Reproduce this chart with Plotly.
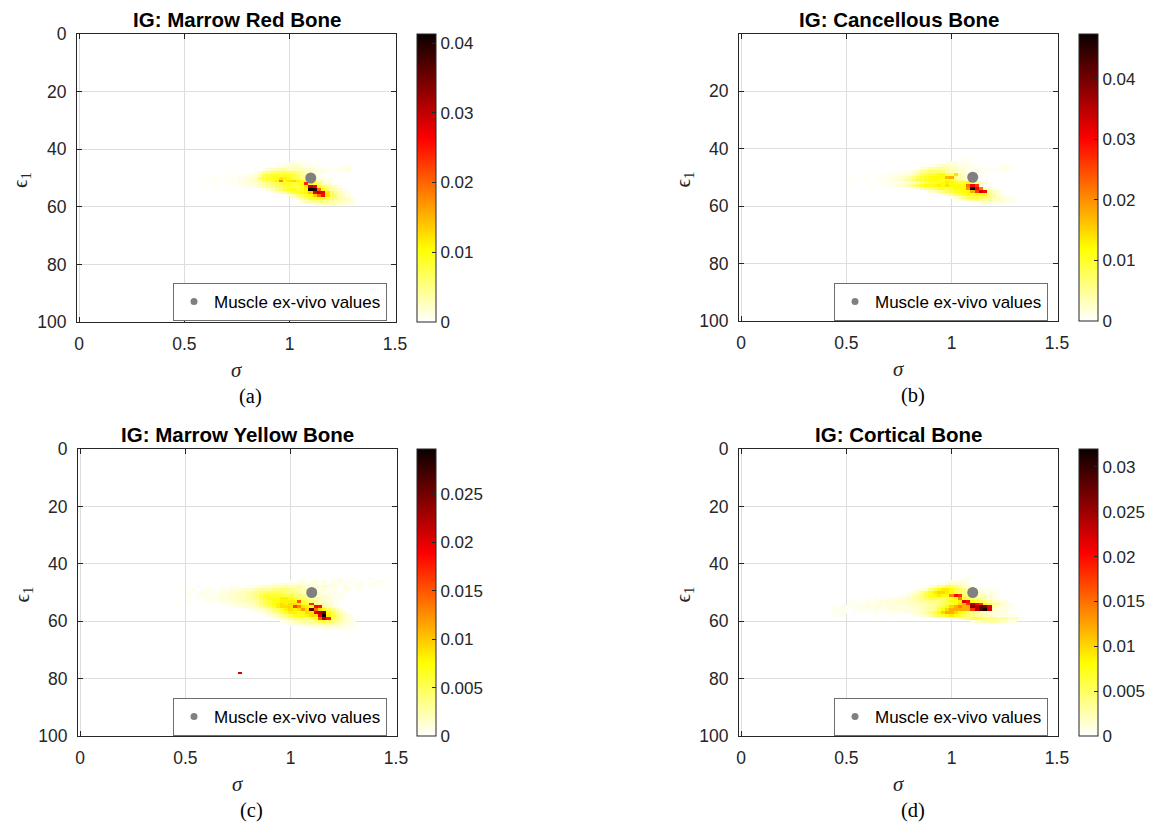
import numpy as np
import plotly.graph_objects as go

W, H = 1152, 822

# ---------------- data ----------------
TITLES = ["IG: Marrow Red Bone", "IG: Cancellous Bone", "IG: Marrow Yellow Bone", "IG: Cortical Bone"]
CAPTIONS = ["(a)", "(b)", "(c)", "(d)"]
X_TICKS = [0, 0.5, 1, 1.5]
X_TICKTEXT = ["0", "0.5", "1", "1.5"]
Y_TICKS = [0, 20, 40, 60, 80, 100]
CB_TICKS = [
    [0, 0.01, 0.02, 0.03, 0.04],
    [0, 0.01, 0.02, 0.03, 0.04],
    [0, 0.005, 0.01, 0.015, 0.02, 0.025],
    [0, 0.005, 0.01, 0.015, 0.02, 0.025, 0.03],
]
MUSCLE_SIGMA = [1.1]
MUSCLE_EPS = [50]
LEGEND_LABEL = "Muscle ex-vivo values"

SIGMA_STEP = 0.02          # histogram bin width in sigma
N_SIGMA = 76               # sigma bins 0 .. 1.5
N_EPS = 101                # eps bins 0 .. 100
VALUE_UNIT = 1e-3          # values below are in units of 1e-3

# rows: (eps bin, first sigma bin index, values)
A_ROWS = [
    (44, 51, [0.5, 0, 0.5, 0.5]),
    (45, 49, [0.5, 1, 1, 1.5, 1, 0.5, 0.5, 0.5]),
    (46, 47, [1, 1, 1.5, 2, 2.5, 2.5, 1.5, 1, 1, 0.5, 0.5, 0, 0, 0, 0, 0.5, 1, 0.5]),
    (47, 44, [1, 2, 3, 3, 4, 4, 3, 3, 3, 3, 2, 2, 1, 1, 1, 0.5, 0.5, 0.5, 1, 1, 1.5, 0.5]),
    (48, 42, [1, 2, 4, 5, 6, 7, 7, 7, 6, 6, 5, 4, 3, 2, 2, 1.5, 1, 1, 0.5, 0.5, 0.5, 0, 0.5]),
    (49, 32, [0.5, 0.5, 0, 0.5, 0.5, 0, 0.5, 0.5, 1, 1, 1.5, 3, 7, 8, 9, 9, 8, 9, 9, 8, 6, 5, 4, 3, 2]),
    (50, 29, [0.5, 0, 0.5, 0.5, 0.5, 0, 0.5, 0.5, 0.5, 1, 1, 1.5, 2, 3, 6, 8, 9, 9, 10, 12, 11, 10, 8, 7, 5, 4, 3, 2, 1, 1, 0.5, 0.5]),
    (51, 36, [0.5, 0.5, 1, 1, 1.5, 2, 3, 4, 6, 8, 9, 11, 10, 10, 12, 13, 11, 9, 8, 6, 5, 3, 2, 1, 0.5]),
    (52, 30, [0.5, 0, 0.5, 0.5, 0, 0.5, 0.5, 0.5, 1, 1, 1.5, 1, 2, 3, 4, 5, 6, 7, 8, 9, 9, 8, 9, 10, 12, 10, 8, 5, 3, 2, 1, 0.5]),
    (53, 38, [0.5, 0.5, 1, 1, 1.5, 2, 3, 4, 5, 6, 7, 8, 9, 8, 7, 9, 12, 10, 10, 10, 6, 4, 3, 2, 1]),
    (54, 44, [1, 2, 3, 5, 6, 8, 9, 10, 8, 9, 11, 12, 12, 12, 10, 6, 4, 3, 2, 1]),
    (55, 46, [1, 2, 3, 4, 6, 8, 9, 10, 11, 14, 12, 12, 12, 12, 6, 4, 3, 2, 1]),
    (56, 50, [2, 3, 5, 7, 8, 10, 14, 12, 12, 12, 7, 5, 3, 2, 1]),
    (57, 51, [1, 2, 4, 6, 8, 9, 10, 9, 8, 6, 5, 4, 3, 2, 1]),
    (58, 53, [2, 3, 4, 5, 5, 5, 4, 4, 3, 3, 2, 2, 1]),
    (59, 56, [1, 2, 2, 3, 3, 2, 2, 2, 1, 1]),
]
# strong cells: (sigma bin index, eps bin, value)
A_HOT = [(48, 51, 18), (54, 52, 24), (55, 53, 30), (56, 53, 27), (55, 54, 41.3), (56, 54, 40),
         (57, 54, 20), (56, 55, 28), (57, 55, 30), (58, 55, 28), (57, 56, 20), (58, 56, 26)]

B_ROWS = [
    (44, 52, [0.5, 1, 0.5]),
    (45, 48, [0.5, 1, 1.5, 1.5, 1, 0.5, 0.5, 0.5]),
    (46, 44, [0.5, 1, 1.5, 2, 3, 3, 2, 2, 1, 1, 1, 0.5, 0.5, 0, 0, 0, 0, 0, 0.5, 1, 0.5]),
    (47, 42, [1, 2, 3, 4, 4, 5, 4, 4, 3, 3, 2, 2, 1, 1, 1, 0.5, 0.5, 0.5, 0.5, 1, 1, 1, 0.5, 0.5]),
    (48, 36, [0.5, 0, 0.5, 0.5, 1, 2, 3, 5, 6, 7, 7, 7, 6, 5, 4, 3, 2, 2, 1, 1, 1, 0.5, 0.5, 0.5, 0, 0.5, 0.5, 0.5]),
    (49, 30, [0.5, 0.5, 0, 0.5, 0.5, 0.5, 0.5, 1, 1, 1.5, 2, 3, 5, 7, 8, 9, 10, 12, 12, 8, 7, 5, 4, 3, 2, 1, 0.5, 0.5]),
    (50, 26, [0.5, 0, 0, 0.5, 0.5, 0, 0.5, 0.5, 0.5, 1, 1, 1.5, 2, 3, 4, 6, 8, 9, 10, 11, 12, 12, 12, 10, 8, 6, 4, 3, 2, 1, 0.5]),
    (51, 32, [0.5, 0.5, 1, 1, 1.5, 2, 3, 4, 5, 7, 9, 10, 11, 12, 12, 11, 10, 11, 10, 8, 6, 4, 3, 2, 1]),
    (52, 34, [0.5, 0.5, 1, 1, 1, 2, 2, 3, 4, 6, 8, 9, 10, 11, 12, 13, 12, 10, 9, 10, 12, 8, 5, 3, 2, 1]),
    (53, 26, [0.5, 0, 0, 0, 0.5, 0.5, 0, 0.5, 0.5, 1, 1, 1.5, 2, 3, 4, 6, 8, 10, 12, 11, 12, 13, 12, 14, 12, 12, 12, 12, 6, 3, 2, 1]),
    (54, 40, [0.5, 1, 1.5, 3, 4, 6, 8, 9, 10, 9, 10, 12, 12, 12, 12, 12, 12, 6, 3, 2, 1]),
    (55, 44, [1, 2, 3, 5, 6, 8, 9, 10, 11, 12, 12, 12, 12, 12, 12, 5, 3, 2, 1]),
    (56, 48, [2, 3, 5, 7, 8, 10, 12, 10, 12, 12, 12, 6, 4, 2, 1]),
    (57, 50, [1, 2, 4, 6, 8, 9, 9, 8, 7, 5, 4, 3, 2, 1, 1]),
    (58, 52, [1, 2, 3, 4, 5, 5, 4, 4, 3, 3, 2, 2, 1, 1]),
    (59, 55, [1, 1, 2, 3, 3, 2, 2, 2, 1, 1, 0.5]),
]
B_HOT = [(49, 50, 17), (50, 50, 18), (51, 49, 14), (54, 53, 22), (55, 53, 30), (56, 53, 26),
         (54, 54, 20), (55, 54, 47.4), (56, 54, 30), (57, 54, 22), (56, 55, 26), (57, 55, 33),
         (58, 55, 30), (55, 55, 18)]

C_ROWS = [
    (45, 60, [0.5, 0, 0.5, 0, 0, 0.5, 0, 0, 0, 0.5, 0, 0, 0, 0.5]),
    (46, 50, [0.5, 0, 0.5, 1, 0, 0.5, 1, 0.5, 1, 0, 0.5, 0.5, 1, 0, 0.5, 0, 0, 0.5, 0, 0, 0.5, 0.5, 0.5]),
    (47, 40, [0.5, 0, 0, 0.5, 0, 0.5, 1, 1, 1, 1.5, 1, 1, 1.5, 1, 1, 1, 0.5, 0, 0.5, 0.5, 1, 0.5, 0, 0.5, 0, 0, 0.5, 0.5, 0, 0.5, 0.5]),
    (48, 28, [0.5, 0, 0, 0, 0, 0, 0.5, 0, 0.5, 0.5, 0, 0, 0.5, 0.5, 1, 1, 1.5, 1.5, 2, 2, 2, 2.5, 2, 2, 2.5, 2, 1.5, 1, 1, 1, 1.5, 1, 1, 0.5, 0.5, 1, 0.5, 0.5, 0.5, 0.5, 0, 0.5, 0.5]),
    (49, 24, [0.5, 0, 0, 0.5, 0, 0, 0.5, 0.5, 0, 0.5, 0.5, 0.5, 1, 1, 1, 1.5, 1.5, 2, 2.5, 3, 3, 3, 3.5, 4, 4, 4, 3.5, 3, 2.5, 2, 2, 1.5, 1, 1, 1, 0.5, 0.5, 0.5, 0, 0.5, 0.5, 0, 0.5]),
    (50, 22, [0.5, 0, 0, 0, 0.5, 0, 0, 0.5, 0.5, 0.5, 0.5, 0.5, 1, 1, 1, 1.5, 1.5, 2, 2.5, 3, 3.5, 4, 4.5, 5, 5, 5, 4.5, 4, 3.5, 3, 2.5, 2, 1.5, 1.5, 1, 1, 0.5, 0.5, 0.5, 0, 0.5]),
    (51, 26, [0.5, 0, 0.5, 0.5, 0.5, 0.5, 0.5, 1, 1, 1, 1.5, 1.5, 2, 2, 2.5, 3, 4, 5, 6, 6, 6, 6, 6, 5.5, 5, 4.5, 4, 3.5, 3, 2.5, 2, 1.5, 1, 1, 0.5, 0.5, 0.5, 0.5]),
    (52, 28, [0.5, 0, 0.5, 0.5, 0.5, 1, 1, 1, 1.5, 1.5, 2, 2, 2.5, 3, 4, 5, 6, 7, 7, 7, 8, 8, 7, 6, 5, 4.5, 4, 3, 2.5, 2, 1.5, 1, 1, 0.5, 0.5]),
    (53, 23, [0.5, 0, 0, 0.5, 0, 0, 0, 0.5, 0.5, 0.5, 0.5, 1, 1, 1, 1.5, 1.5, 2, 2, 2.5, 3, 4, 5, 6, 7, 7, 8, 8, 8, 8, 7, 6, 5, 4, 3, 2, 1.5, 1, 0.5, 0.5]),
    (54, 34, [0.5, 0.5, 0.5, 1, 1, 1, 1.5, 2, 3, 4, 5, 6, 7, 8, 9, 8, 9, 9, 8, 7, 6, 5, 4, 3, 2, 1.5, 1, 0.5]),
    (55, 36, [0.5, 0.5, 1, 1, 1.5, 1.5, 2, 3, 4, 5, 6, 8, 9, 9, 9, 9, 9, 9, 8, 7, 6, 4, 3, 2, 1, 0.5]),
    (56, 40, [0.5, 1, 1, 1.5, 2, 3, 4, 5, 6, 8, 9, 8, 9, 9, 9, 9, 9, 9, 7, 5, 3, 2, 1]),
    (57, 42, [0.5, 1, 1.5, 2, 3, 4, 5, 7, 8, 8, 7, 7, 9, 9, 9, 9, 9, 7, 5, 3, 2, 1]),
    (58, 44, [0.5, 1, 1.5, 2, 3, 4, 5, 7, 7, 7, 8, 9, 9, 9, 9, 8, 6, 4, 2.5, 1.5, 1]),
    (59, 46, [0.5, 1, 1.5, 2, 3, 4, 4, 4, 4, 5, 7, 9, 9, 7, 5, 4, 2.5, 1.5, 1]),
    (60, 48, [0.5, 1, 1.5, 2, 2.5, 3, 2.5, 3, 4, 5, 6, 5, 4, 3, 2, 1.5, 1, 0.5]),
    (61, 50, [0.5, 1, 1, 1.5, 2, 2, 2, 2, 2.5, 2.5, 2, 2, 1.5, 1, 0.5, 0.5]),
    (62, 54, [0.5, 0.5, 1, 1, 1, 1, 1, 1, 1, 0.5, 0.5, 0.5]),
    (63, 58, [0.5, 0.5, 0.5, 0.5, 0.5, 0.5, 0.5]),
]
C_HOT = [(52, 53, 15), (51, 55, 16), (52, 55, 13), (55, 54, 17), (56, 55, 19), (56, 56, 14),
         (57, 55, 18), (55, 56, 26), (56, 57, 20), (57, 57, 22), (58, 57, 25), (57, 58, 20),
         (58, 58, 29.65), (58, 59, 22), (59, 59, 18), (57, 59, 15), (53, 56, 12), (38, 78, 21)]

D_ROWS = [
    (45, 53, [0.5, 1, 0.5]),
    (46, 49, [0.5, 1, 1, 1, 1, 0.5]),
    (47, 47, [1, 1, 2, 2, 2, 2, 1, 1]),
    (48, 45, [1, 2, 3, 4, 5, 5, 4, 3, 2, 1, 0.5]),
    (49, 42, [1, 1, 2, 4, 6, 8, 9, 9, 8, 6, 5, 4, 3, 2, 1, 1, 0.5, 0.5, 0.5]),
    (50, 40, [0.5, 1, 2, 3, 5, 7, 9, 10, 10, 9, 8, 6, 5, 4, 3, 2, 2, 1, 1, 0.5, 0.5, 0.5]),
    (51, 38, [0.5, 0.5, 1, 2, 3, 4, 6, 7, 8, 9, 8, 8, 8, 7, 6, 5, 4, 3, 3, 2, 2, 1, 1, 0.5]),
    (52, 30, [0.5, 0, 0.5, 0, 0.5, 0.5, 1, 1, 1, 1.5, 2, 2.5, 3, 4, 5, 6, 6, 5, 5, 6, 7, 8, 8, 7, 6, 5, 4, 3, 2, 1.5, 1, 0.5]),
    (53, 26, [0.5, 0.5, 0, 0.5, 0.5, 0.5, 0.5, 1, 1, 1, 1, 1.5, 1.5, 1.5, 2, 2, 2.5, 3, 3, 3.5, 4, 4, 5, 6, 7, 8, 9, 9, 8, 7, 6, 5, 4, 3, 2, 2, 1, 1]),
    (54, 24, [0.5, 0, 0.5, 0.5, 0.5, 0.5, 1, 0.5, 1, 1, 1, 1, 1.5, 1, 1.5, 1, 1.5, 2, 2, 2, 2.5, 3, 3, 4, 5, 6, 7, 8, 10, 12, 10, 8, 9, 10, 8, 6, 4, 3, 2, 1, 1]),
    (55, 22, [0.5, 0, 0.5, 0.5, 0.5, 0.5, 0.5, 0.5, 1, 0.5, 1, 1, 0.5, 1, 1, 1, 1, 1, 1.5, 1.5, 1.5, 2, 2.5, 3, 4, 5, 6, 8, 10, 12, 14, 12, 12, 12, 12, 10, 7, 5, 3, 2, 1, 1, 0.5]),
    (56, 22, [0.5, 0.5, 0.5, 0.5, 0, 0.5, 0.5, 0.5, 0.5, 0.5, 0.5, 0.5, 0.5, 1, 1, 1, 1, 1, 1, 1.5, 1.5, 2, 2.5, 3, 4, 6, 8, 10, 12, 12, 12, 12, 12, 10, 8, 6, 4, 3, 2, 1, 1, 1, 0.5]),
    (57, 23, [0.5, 0.5, 0.5, 0, 0.5, 0, 0.5, 0, 0.5, 0.5, 0, 0.5, 0, 0, 0.5, 0.5, 0.5, 1, 1, 1.5, 2, 3, 4, 6, 8, 10, 12, 12, 10, 8, 7, 5, 4, 3, 2, 2, 1, 1, 1, 1, 0.5]),
    (58, 22, [0.5, 0.5, 0.5, 0, 0, 0, 0, 0, 0, 0, 0.5, 0, 0, 0, 0.5, 0, 0, 0, 0, 0.5, 1, 1, 2, 3, 5, 6, 7, 8, 9, 8, 7, 6, 5, 4, 3, 3, 2, 2, 1, 1, 1, 1, 0.5, 0.5]),
    (59, 50, [1, 1, 2, 3, 4, 5, 6, 5, 4, 4, 4, 3, 3, 3, 2, 2, 1, 1]),
    (60, 55, [1, 2, 2, 3, 3, 3, 3, 2, 2, 1, 1]),
]
D_HOT = [(50, 51, 14), (51, 51, 20), (52, 51, 18), (52, 52, 14), (53, 53, 22), (54, 53, 20),
         (54, 54, 18), (55, 54, 24), (55, 55, 26), (56, 55, 24), (57, 55, 28), (58, 55, 27),
         (56, 56, 24), (57, 56, 28), (58, 56, 32), (59, 56, 22), (59, 55, 22), (55, 56, 18),
         (56, 54, 20), (57, 54, 18)]

PANEL_ROWS = [A_ROWS, B_ROWS, C_ROWS, D_ROWS]
PANEL_HOT = [A_HOT, B_HOT, C_HOT, D_HOT]

# ---------------- layout (pixels) ----------------
# axes boxes: left, right, top, bottom
BOXES = [(77, 396, 34, 322), (739, 1058, 34, 321), (78, 397, 449, 736), (739, 1058, 449, 736)]
Y_RANGES = [[100, 0], [100, 0.17], [100, 0], [100, 0]]
X_RANGE = [-0.0095, 1.5047]
CB_LEFT = [417, 1079, 417, 1079]
LEGEND_RIGHT = [387, 1048, 387, 1048]

FONT = "Liberation Sans, Arial, Helvetica, sans-serif"
SERIF = "Liberation Serif, Times New Roman, serif"
AX_COLOR = "#262626"


def px_x(p):
    return p / W


def px_y(p):
    return 1 - p / H


def hot_flipped(n=64):
    n1 = int(3 * n / 8)
    r = np.concatenate([np.arange(1, n1 + 1) / n1, np.ones(n - n1)])
    g = np.concatenate([np.zeros(n1), np.arange(1, n1 + 1) / n1, np.ones(n - 2 * n1)])
    b = np.concatenate([np.zeros(2 * n1), np.arange(1, n - 2 * n1 + 1) / (n - 2 * n1)])
    cols = [(r[k], g[k], b[k]) for k in range(n)][::-1]
    return [[k / (n - 1), "rgb(%d,%d,%d)" % tuple(int(round(255 * c)) for c in cols[k])] for k in range(n)]


COLORSCALE = hot_flipped()
sigma_grid = np.arange(N_SIGMA) * SIGMA_STEP
eps_grid = np.arange(N_EPS)


def build_grid(rows, hot):
    z = np.full((N_EPS, N_SIGMA), np.nan)
    for eps, i0, vals in rows:
        for k, v in enumerate(vals):
            if v > 0:
                z[eps, i0 + k] = v * VALUE_UNIT
    for i, eps, v in hot:
        z[eps, i] = v * VALUE_UNIT
    return z


fig = go.Figure()
layout = dict(width=W, height=H, margin=dict(l=0, r=0, t=0, b=0, autoexpand=False),
              paper_bgcolor="white", plot_bgcolor="white", showlegend=True)
annotations = []

for p in range(4):
    left, right, top, bottom = BOXES[p]
    sfx = "" if p == 0 else str(p + 1)
    xa, ya = "x" + sfx, "y" + sfx
    leg = "legend" + sfx
    z = build_grid(PANEL_ROWS[p], PANEL_HOT[p])
    zmax = float(np.nanmax(z))
    ticks = CB_TICKS[p]
    fig.add_trace(go.Heatmap(
        x=sigma_grid, y=eps_grid, z=z, xaxis=xa, yaxis=ya,
        colorscale=COLORSCALE, zmin=0, zmax=zmax, zsmooth=False, hoverongaps=False,
        showscale=True,
        colorbar=dict(x=px_x(CB_LEFT[p]), xanchor="left", y=px_y(top), yanchor="top",
                      len=(bottom - top) / H, lenmode="fraction", thickness=19,
                      thicknessmode="pixels", outlinewidth=1, outlinecolor=AX_COLOR,
                      xpad=0, ypad=0, tickvals=ticks, ticktext=[("%g" % t) for t in ticks],
                      ticks="inside", ticklen=4, tickcolor=AX_COLOR,
                      tickfont=dict(family=FONT, size=17, color=AX_COLOR)),
    ))
    fig.add_trace(go.Scatter(
        x=MUSCLE_SIGMA, y=MUSCLE_EPS, xaxis=xa, yaxis=ya, mode="markers",
        marker=dict(size=11, color="#808080"), showlegend=False, hoverinfo="skip"))
    fig.add_trace(go.Scatter(
        x=[None], y=[None], xaxis=xa, yaxis=ya, mode="markers", name=LEGEND_LABEL,
        marker=dict(size=7, color="#808080"), legend=leg, showlegend=True))

    axis_common = dict(ticks="inside", ticklen=5, tickcolor=AX_COLOR, showline=True,
                       linecolor=AX_COLOR, linewidth=1, mirror="ticks", showgrid=True,
                       gridcolor="#dedede", gridwidth=1, zeroline=False,
                       tickfont=dict(family=FONT, size=17.5, color=AX_COLOR),
                       ticklabelstandoff=6, fixedrange=True)
    layout["xaxis" + sfx] = dict(axis_common, domain=[px_x(left), px_x(right)], anchor=ya,
                                 range=X_RANGE, tickvals=X_TICKS, ticktext=X_TICKTEXT)
    layout["yaxis" + sfx] = dict(axis_common, domain=[px_y(bottom), px_y(top)], anchor=xa,
                                 range=Y_RANGES[p], tickvals=Y_TICKS,
                                 ticktext=[str(t) for t in Y_TICKS])
    layout[leg] = dict(x=px_x(LEGEND_RIGHT[p]), xanchor="right", y=px_y(top + 249), yanchor="top",
                       bgcolor="white", bordercolor="#6e6e6e", borderwidth=1,
                       font=dict(family=FONT, size=17, color="#000000"))

    cx = (left + right) / 2
    annotations.append(dict(text="<b>%s</b>" % TITLES[p], x=px_x(cx), y=px_y(top - 15),
                            xref="paper", yref="paper", showarrow=False, xanchor="center",
                            yanchor="middle", font=dict(family=FONT, size=20.5, color="#000000")))
    annotations.append(dict(text="<i>σ</i>", x=px_x(cx), y=px_y(bottom + 48),
                            xref="paper", yref="paper", showarrow=False, xanchor="center",
                            yanchor="middle", font=dict(family=SERIF, size=21, color=AX_COLOR)))
    annotations.append(dict(text="ϵ<sub>1</sub>", x=px_x(left - 56), y=px_y((top + bottom) / 2 + 2),
                            xref="paper", yref="paper", showarrow=False, xanchor="center",
                            yanchor="middle", textangle=-90,
                            font=dict(family=SERIF, size=21, color=AX_COLOR)))
    annotations.append(dict(text=CAPTIONS[p], x=px_x(cx + 14), y=px_y(bottom + 74),
                            xref="paper", yref="paper", showarrow=False, xanchor="center",
                            yanchor="middle", font=dict(family=SERIF, size=20.5, color="#000000")))

layout["annotations"] = annotations
fig.update_layout(**layout)
fig.write_html("out.html")
